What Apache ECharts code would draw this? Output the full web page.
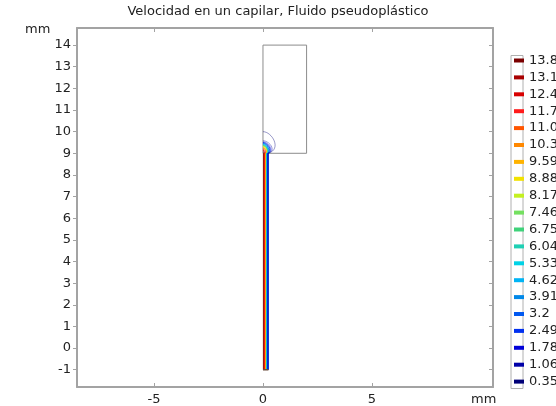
<!DOCTYPE html>
<html>
<head>
<meta charset="utf-8">
<script src="https://cdn.jsdelivr.net/npm/echarts@6/dist/echarts.min.js"></script>
<style>
  html, body { margin: 0; padding: 0; background: #fff; }
  #chart { width: 556px; height: 406px; }
</style>
</head>
<body>
<div id="chart"></div>
<script>
// Contour levels of the velocity field (legend order, top to bottom)
const levels = [13.8, 13.1, 12.4, 11.7, 11.0, 10.3, 9.59, 8.88, 8.17, 7.46, 6.75, 6.04, 5.33, 4.62, 3.91, 3.2, 2.49, 1.78, 1.06, 0.35];
const levelLabels = ['13.8', '13.1', '12.4', '11.7', '11.0', '10.3', '9.59', '8.88', '8.17', '7.46', '6.75', '6.04', '5.33', '4.62', '3.91', '3.2', '2.49', '1.78', '1.06', '0.35'];
const levelColors = ['#7a0000', '#a80000', '#d80000', '#ff1a1a', '#ff5500', '#ff8800', '#ffb300', '#f2e200', '#c4f020', '#74e060', '#3fd27a', '#1fd0b4', '#00d2e6', '#00b4f5', '#0088e8', '#0058f0', '#0030f0', '#0000d8', '#0000a8', '#000078'];

// Radial position of each contour inside the capillary (mm)
const contourRadius = [0.03, 0.06, 0.08, 0.10, 0.12, 0.14, 0.15, 0.16, 0.17, 0.175, 0.18, 0.19, 0.195, 0.20, 0.21, 0.22, 0.225, 0.23, 0.235, 0.245];
// Extent of each contour past the capillary exit: widest x and height above exit (mm)
const plumeWidth = [0.03, 0.06, 0.08, 0.10, 0.12, 0.14, 0.15, 0.16, 0.17, 0.18, 0.19, 0.20, 0.21, 0.22, 0.24, 0.27, 0.30, 0.34, 0.40, 0.55];
const plumeHeight = [0.05, 0.10, 0.14, 0.18, 0.22, 0.25, 0.28, 0.31, 0.34, 0.36, 0.38, 0.40, 0.42, 0.44, 0.46, 0.48, 0.50, 0.53, 0.58, 1.0];

// Geometry: capillary end and reservoir (mm)
const capillaryBottom = -1;
const capillaryTop = 9;
const capillaryEndX = [0, 0.25];
const capillaryEndY = [-1, -1];
const reservoirX = [0, 2, 2, 0, 0];
const reservoirY = [9, 9, 14, 14, 9];

// Axis extents and tick labels (mm)
const xRange = [-8.53, 10.55];
const yRange = [-1.8, 14.79];
const xTicks = [-5, 0, 5];
const yTicks = [-1, 0, 1, 2, 3, 4, 5, 6, 7, 8, 9, 10, 11, 12, 13, 14];

const FONT = 'DejaVu Sans';
const AXIS_COLOR = '#a3a3a3';
const TEXT_COLOR = '#222';

const chart = echarts.init(document.getElementById('chart'), null, { renderer: 'canvas' });

function contourRender(params, api) {
  const x = api.value(0), w = api.value(1), h = api.value(2), lv = api.value(3);
  const color = api.visual('color');
  const a = api.coord([x, capillaryBottom]);
  const b = api.coord([x, capillaryTop]);
  const c1 = api.coord([1.6 * w, capillaryTop + 0.2 * h]);
  const c2 = api.coord([0.75 * w, capillaryTop + h]);
  const d = api.coord([0, capillaryTop + h]);
  // slow contours (dark blue) render faint, as in the smoothed plot
  const faint = lv < 2;
  return {
    type: 'group',
    children: [
      { type: 'line', shape: { x1: a[0], y1: a[1], x2: b[0], y2: b[1] },
        style: { stroke: color, lineWidth: 1.5, opacity: faint ? 0.2 : 0.85 } },
      { type: 'bezierCurve',
        shape: { x1: b[0], y1: b[1], x2: d[0], y2: d[1], cpx1: c1[0], cpy1: c1[1], cpx2: c2[0], cpy2: c2[1] },
        style: { stroke: color, fill: null, lineWidth: 1, opacity: faint ? 0.4 : 0.7 } }
    ]
  };
}

const contourSeries = levels.map((lv, i) => ({
  name: levelLabels[i],
  type: 'custom',
  xAxisIndex: 0,
  yAxisIndex: 0,
  renderItem: contourRender,
  itemStyle: { color: levelColors[i] },
  data: [[contourRadius[i], plumeWidth[i], plumeHeight[i], lv]],
  silent: true,
  animation: false,
  z: 3
}));

function frameAxis(pos, isX, showLabels, inside) {
  const ticks = isX ? xTicks : yTicks;
  const range = isX ? xRange : yRange;
  return {
    type: 'value',
    position: pos,
    min: range[0],
    max: range[1],
    axisLine: { show: true, onZero: false, lineStyle: { color: AXIS_COLOR, width: 2 } },
    axisTick: { show: true, inside: inside, length: 4, customValues: ticks, lineStyle: { color: AXIS_COLOR, width: 1 } },
    axisLabel: { show: showLabels, customValues: ticks, margin: 6, color: TEXT_COLOR, fontSize: 13, fontFamily: FONT },
    splitLine: { show: false }
  };
}

const option = {
  animation: false,
  backgroundColor: '#fff',
  grid: { left: 77, right: 63, top: 28, bottom: 18 },
  xAxis: [frameAxis('bottom', true, true, true), frameAxis('top', true, false, true)],
  yAxis: [frameAxis('left', false, true, false), frameAxis('right', false, false, true)],
  legend: {
    orient: 'vertical',
    left: 509,
    top: 48.5,
    icon: 'rect',
    itemWidth: 10,
    itemHeight: 4,
    itemGap: 2.9,
    selectedMode: false,
    data: levelLabels,
    textStyle: { fontSize: 13, lineHeight: 14, color: TEXT_COLOR, fontFamily: FONT, padding: [0, 0, 0, 0] }
  },
  graphic: [
    { type: 'text', left: 'center', top: 5, z: 10,
      style: { text: 'Velocidad en un capilar, Fluido pseudoplástico', fill: TEXT_COLOR, font: '13px "DejaVu Sans"' },
      x: 9 },
    { type: 'text', left: 25, top: 23, style: { text: 'mm', fill: TEXT_COLOR, font: '13px "DejaVu Sans"' } },
    { type: 'text', left: 471, top: 393, style: { text: 'mm', fill: TEXT_COLOR, font: '13px "DejaVu Sans"' } },
    { type: 'rect', left: 508.5, top: 53, z: 0,
      shape: { width: 12, height: 333 }, style: { fill: 'none', stroke: '#b0b0b0', lineWidth: 1 } }
  ],
  series: [
    {
      name: 'reservorio',
      type: 'line',
      data: reservoirX.map((x, i) => [x, reservoirY[i]]),
      symbol: 'none',
      lineStyle: { color: '#8c8c8c', width: 1 },
      silent: true,
      z: 2
    },
    {
      name: 'extremo',
      type: 'line',
      data: capillaryEndX.map((x, i) => [x, capillaryEndY[i]]),
      symbol: 'none',
      lineStyle: { color: '#6a4a3a', width: 1.5 },
      silent: true,
      z: 4
    }
  ].concat(contourSeries)
};

chart.setOption(option);
</script>
</body>
</html>
